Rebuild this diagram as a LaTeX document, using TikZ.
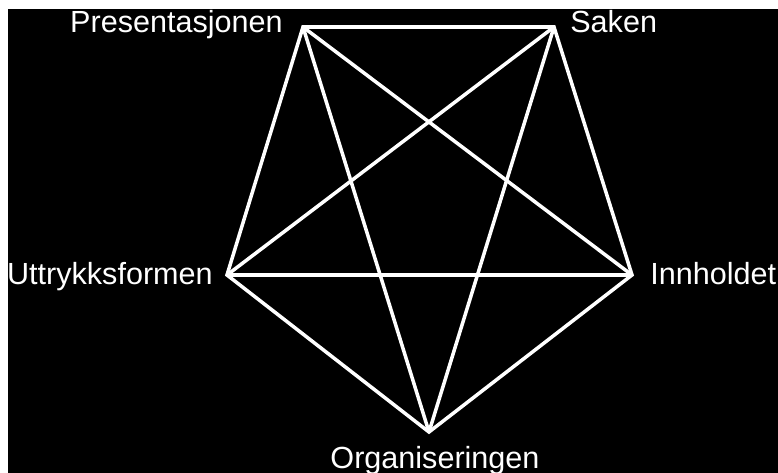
\documentclass[tikz,border=0pt]{standalone}
\usepackage{fontspec}
\setmainfont{Liberation Sans}
\usepackage{tikz}
\usetikzlibrary{positioning}

\begin{document}
\begin{tikzpicture}[x=0.02cm, y=-0.02cm,
    link/.style={draw=white, line width=2pt},
    lbl/.style={text=white, inner sep=0pt, font=\fontsize{17.4}{20}\selectfont}]
    \useasboundingbox (0,0) rectangle (778,473);
    \fill[white] (0,0) rectangle (778,473);
    \fill[black] (8,9) rectangle (778,473);

    \coordinate (P) at (303,27);
    \coordinate (S) at (554,27);
    \coordinate (I) at (632,275);
    \coordinate (O) at (429,432);
    \coordinate (U) at (227,275);

    \node[lbl, left=0.4cm of P, yshift=0.04cm] (lP) {Presentasjonen};
    \node[lbl, right=0.32cm of S, yshift=0.1cm] (lS) {Saken};
    \node[lbl, right=0.36cm of I, yshift=0.03cm] (lI) {Innholdet};
    \node[lbl, below=0.28cm of O, xshift=0.12cm] (lO) {Organiseringen};
    \node[lbl, left=0.28cm of U, yshift=-0.03cm] (lU) {Uttrykksformen};

    % pentagon
    \draw[link] (P) -- (S) -- (I) -- (O) -- (U) -- cycle;
    % star
    \draw[link] (P) -- (I);
    \draw[link] (P) -- (O);
    \draw[link] (S) -- (O);
    \draw[link] (S) -- (U);
    \draw[link] (U) -- (I);
\end{tikzpicture}
\end{document}
